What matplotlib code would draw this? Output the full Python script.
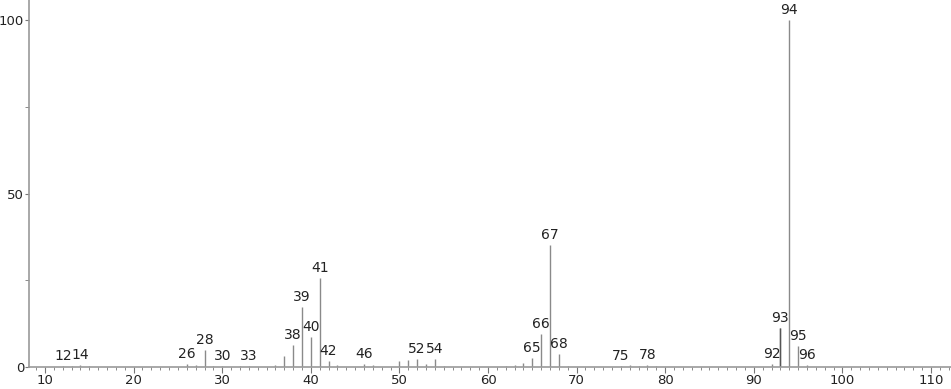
import matplotlib
matplotlib.use("Agg")
import matplotlib.pyplot as plt
from matplotlib.ticker import MultipleLocator

# m/z and relative intensity
mz = [12, 13, 14, 15, 26, 27, 28, 29, 30, 32, 33, 36, 37, 38, 39, 40, 41, 42, 43,
      46, 47, 50, 51, 52, 53, 54, 55, 62, 63, 64, 65, 66, 67, 68, 69,
      75, 76, 77, 78, 79, 92, 93, 94, 95, 96]
intensity = [0.3, 0.3, 0.5, 0.3, 1.0, 0.5, 4.9, 0.3, 0.3, 0.3, 0.3, 0.6, 3.2, 6.4, 17.3, 8.6, 25.8, 1.8, 0.6,
             0.9, 0.5, 1.6, 2.1, 2.4, 0.9, 2.3, 0.3, 0.3, 0.7, 1.2, 2.7, 9.5, 35.2, 3.7, 0.3,
             0.3, 0.5, 0.3, 0.6, 0.3, 0.8, 11.3, 100.0, 6.1, 0.5]
labelled = [12, 14, 26, 28, 30, 33, 38, 39, 40, 41, 42, 46, 52, 54,
            65, 66, 67, 68, 75, 78, 92, 93, 94, 95, 96]

fig = plt.figure(figsize=(9.51, 3.89), dpi=100)
ax = fig.add_axes([29 / 951, 22 / 389, 1 - 29 / 951, 1 - 22 / 389])

ax.vlines(mz, 0, intensity, colors="#8a8a8a", linewidth=1.0)
ax.vlines([93], 0, [intensity[mz.index(93)]], colors="#555555", linewidth=1.0)

for m, h in zip(mz, intensity):
    if m in labelled:
        ax.text(m, h + 0.8, str(m), ha="center", va="bottom",
                fontsize=10, color="#222222")

ax.set_xlim(8.19, 112.26)
ax.set_ylim(0, 105.8)
ax.xaxis.set_major_locator(MultipleLocator(10))
ax.xaxis.set_minor_locator(MultipleLocator(1))
ax.yaxis.set_major_locator(MultipleLocator(50))
ax.yaxis.set_minor_locator(MultipleLocator(25))

for side in ["top", "right"]:
    ax.spines[side].set_visible(False)
for side in ["left", "bottom"]:
    ax.spines[side].set_color("#999999")
    ax.spines[side].set_linewidth(1.2)
ax.tick_params(axis="both", which="both", colors="#777777", labelcolor="#222222",
               labelsize=9.5, direction="out")
ax.tick_params(axis="x", which="major", length=4, pad=1)
ax.tick_params(axis="x", which="minor", length=2)
ax.tick_params(axis="y", which="major", length=3, pad=0.5)
ax.tick_params(axis="y", which="minor", length=3)

fig.savefig("out.png", dpi=100)
